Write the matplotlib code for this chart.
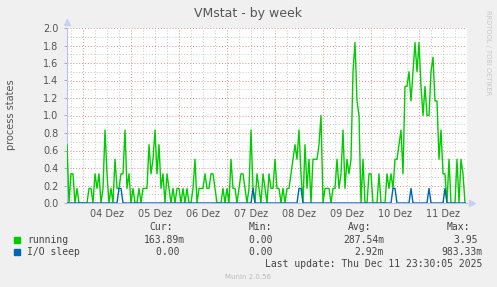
import numpy as np
import matplotlib
matplotlib.use('Agg')
import matplotlib.pyplot as plt
from matplotlib.ticker import MultipleLocator, FixedLocator, FixedFormatter

# hours relative to 04 Dez 00:00, one sample per hour
start_hour = -8
end_hour = 192

# running processes, read in sixths (munin averages of 6 samples)
running_sixths = [
    4, 0, 2, 2, 0, 1, 0, 0, 0, 0, 0, 1, 1, 0, 2, 1, 2, 0, 1, 5,
    2, 0, 1, 0, 3, 1, 1, 2, 2, 5, 1, 2, 0, 1, 0, 0, 1, 0, 1, 1,
    1, 4, 2, 3, 5, 2, 4, 1, 2, 0, 2, 1, 0, 1, 0, 1, 1, 0, 1, 0,
    1, 0, 0, 1, 3, 0, 1, 1, 1, 2, 1, 1, 2, 2, 1, 0, 0, 0, 1, 0,
    1, 0, 3, 1, 1, 0, 1, 2, 2, 1, 0, 1, 5, 1, 0, 2, 1, 0, 2, 1,
    0, 2, 1, 1, 3, 1, 1, 0, 1, 0, 1, 1, 2, 3, 4, 3, 5, 2, 0, 4,
    1, 3, 0, 3, 3, 3, 4, 6, 0, 1, 1, 1, 0, 1, 1, 3, 1, 2, 5, 1,
    3, 2, 3, 9, 11, 7, 6, 0, 3, 0, 0, 2, 2, 0, 0, 0, 2, 0, 0, 0,
    2, 1, 2, 1, 3, 3, 4, 5, 2, 8, 8, 9, 7, 9, 11, 9, 11, 8, 6, 8,
    6, 6, 9, 10, 7, 7, 3, 5, 2, 2, 0, 3, 0, 0, 0, 3, 0, 3, 2, 0,
]

# I/O sleep: only a few short spikes
io_spike_hours = [18, 19, 85, 108, 109, 155, 156, 164, 173, 181]
io_spike_sixths = [1, 1, 1, 1, 1, 1, 1, 1, 1, 1]

days = ['04 Dez', '05 Dez', '06 Dez', '07 Dez', '08 Dez', '09 Dez', '10 Dez', '11 Dez']

legend_rows = [
    ('running', '#00CC00', '163.89m', '0.00', '287.54m', '3.95'),
    ('I/O sleep', '#0066B3', '0.00', '0.00', '2.92m', '983.33m'),
]

hours = np.arange(start_hour, end_hour)
running = np.array(running_sixths) / 6.0
io_sleep = np.zeros(len(hours))
for h, v in zip(io_spike_hours, io_spike_sixths):
    io_sleep[h - start_hour] = v / 6.0

W, H = 497, 287
fig = plt.figure(figsize=(W / 100, H / 100), dpi=100, facecolor='#F0F0F0')


def px(x, y):
    return x / W, 1 - y / H


ax = fig.add_axes([67 / W, 1 - 203 / H, 400 / W, 175 / H])
ax.set_facecolor('white')

ax.set_xlim(start_hour, end_hour)
ax.set_ylim(0, 2.0)

# grid: gray every 6h / 0.1, red every day / 0.2
grid_kw = dict(linestyle=(0, (1, 2)), linewidth=0.7, zorder=0)
for h in range(-6, end_hour, 6):
    ax.axvline(h, color='#E09090' if h % 24 == 0 else '#C8C8C8', **grid_kw)
for k in range(1, 21):
    ax.axhline(k / 10, color='#E09090' if k % 2 == 0 else '#C8C8C8', **grid_kw)

ax.plot(hours, running, color='#00CC00', linewidth=1.0, zorder=3)
ax.plot(hours, io_sleep, color='#0066B3', linewidth=1.0, zorder=4)

for s in ['top', 'right']:
    ax.spines[s].set_visible(False)
for s in ['left', 'bottom']:
    ax.spines[s].set_color('#B8C0F0')
    ax.spines[s].set_linewidth(0.8)

ax.yaxis.set_major_locator(MultipleLocator(0.2))
ax.yaxis.set_major_formatter(plt.FuncFormatter(lambda v, p: f'{v:.1f}'))
ax.xaxis.set_major_locator(FixedLocator([12 + 24 * i for i in range(len(days))]))
ax.xaxis.set_major_formatter(FixedFormatter(days))
ax.tick_params(axis='y', length=2, width=0.6, color='#A0A0A0', labelsize=7,
               labelcolor='#555555', pad=4)
ax.tick_params(axis='x', length=0, labelsize=7, labelcolor='#555555', pad=4)

# axis arrows
ax.plot([start_hour], [2.07], marker='^', markersize=4, color='#C8D0F4',
        clip_on=False, zorder=5)
ax.plot([end_hour + 2.5], [0], marker='>', markersize=4, color='#C8D0F4',
        clip_on=False, zorder=5)

fig.text(*px(248, 14), 'VMstat - by week', ha='center', va='center',
         fontsize=9, color='#555555')
fig.text(*px(11, 115), 'process states', ha='center', va='center',
         rotation=90, fontsize=7, color='#555555')
fig.text(*px(488, 53), 'RRDTOOL / TOBI OETIKER', ha='center', va='center',
         rotation=270, fontsize=4.8, color='#C8C8C8')

mono = dict(family='DejaVu Sans Mono', fontsize=7, color='#444444', va='center')
for x, lab in zip([149, 249, 348, 447], ['Cur:', 'Min:', 'Avg:', 'Max:']):
    fig.text(*px(x, 227), lab, ha='left', **mono)

value_right = [185, 278, 384, 483]
for r, (name, color, *vals) in enumerate(legend_rows):
    y = 240 + 12 * r
    fig.patches.append(plt.Rectangle(px(14, y + 3), 6 / W, 6 / H, color=color,
                                     transform=fig.transFigure, figure=fig))
    fig.text(*px(27, y), name, ha='left', **mono)
    for xr, v in zip(value_right, vals):
        label = v if v.endswith('m') else v + ' '
        fig.text(*px(xr, y), label, ha='right', **mono)

fig.text(*px(482, 264), 'Last update: Thu Dec 11 23:30:05 2025', ha='right', **mono)
fig.text(*px(248, 277), 'Munin 2.0.56', ha='center', va='center',
         fontsize=5, color='#BBBBBB')

fig.savefig('out.png', dpi=100, facecolor=fig.get_facecolor())
